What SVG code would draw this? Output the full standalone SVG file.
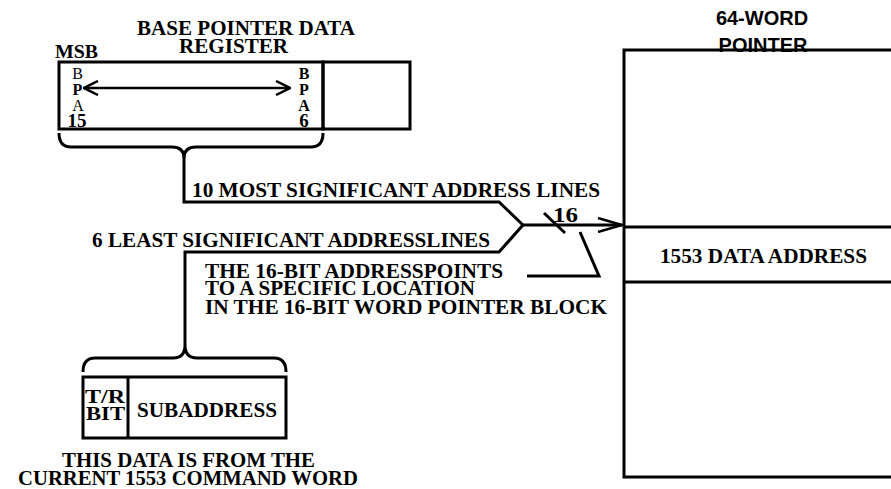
<svg xmlns="http://www.w3.org/2000/svg" width="891" height="489" viewBox="0 0 891 489">
<style>
.t{font-family:"Liberation Serif","Times New Roman",serif;font-weight:bold;font-size:20px;fill:#000}
.r{font-weight:normal}
.s{font-family:"Liberation Sans",Arial,sans-serif;font-weight:bold;font-size:20px;fill:#000}
.box{fill:none;stroke:#000;stroke-width:3}
.ln{fill:none;stroke:#000;stroke-width:3;stroke-linejoin:miter}
.thin{fill:none;stroke:#000;stroke-width:2.5}
</style>
<defs>
<marker id="open" viewBox="0 0 26 16" refX="25" refY="8" markerWidth="26" markerHeight="16" markerUnits="userSpaceOnUse" orient="auto-start-reverse">
<path d="M1,1 L25,8 L1,15" fill="none" stroke="#000" stroke-width="2.5"/>
</marker>
<marker id="small" viewBox="0 0 16 16" refX="15" refY="8" markerWidth="16" markerHeight="16" markerUnits="userSpaceOnUse" orient="auto-start-reverse">
<path d="M1,1 L15,8 L1,15" fill="none" stroke="#000" stroke-width="2.5"/>
</marker>
</defs>

<g id="register">
<text class="t" x="137" y="35" textLength="218" lengthAdjust="spacingAndGlyphs">BASE POINTER DATA</text>
<text class="t" x="179" y="53" textLength="109" lengthAdjust="spacingAndGlyphs">REGISTER</text>
<text class="t" x="55" y="58" textLength="43" lengthAdjust="spacingAndGlyphs" style="font-size:19px">MSB</text>
<rect class="box" x="59" y="62" width="264" height="67"/>
<rect class="box" x="323" y="62" width="87" height="67"/>
<text class="t r" x="77.5" y="79" text-anchor="middle" style="font-size:16px">B</text>
<text class="t" x="77.5" y="95" text-anchor="middle" style="font-size:16px">P</text>
<text class="t r" x="78" y="111" text-anchor="middle" style="font-size:16px">A</text>
<text class="t" x="77" y="127" text-anchor="middle" style="font-size:19px">15</text>
<text class="t" x="304" y="79" text-anchor="middle" style="font-size:16px">B</text>
<text class="t" x="304" y="95" text-anchor="middle" style="font-size:16px">P</text>
<text class="t" x="304" y="111" text-anchor="middle" style="font-size:16px">A</text>
<text class="t" x="304" y="127" text-anchor="middle" style="font-size:19px">6</text>
<line class="thin" x1="84" y1="88" x2="290" y2="88" marker-start="url(#small)" marker-end="url(#small)"/>
</g>

<g id="pointer-block">
<text class="s" x="762" y="25" text-anchor="middle">64-WORD</text>
<text class="s" x="763" y="52" text-anchor="middle">POINTER</text>
<rect x="624" y="50" width="300" height="427" fill="none" stroke="#000" stroke-width="3"/>
<line class="ln" x1="624" y1="227" x2="891" y2="227"/>
<line class="ln" x1="624" y1="282" x2="891" y2="282"/>
<text class="t" x="660" y="263" textLength="207" lengthAdjust="spacingAndGlyphs">1553 DATA ADDRESS</text>
</g>

<g id="command-word">
<rect class="box" x="83" y="377" width="203" height="61"/>
<line class="ln" x1="128" y1="377" x2="128" y2="438"/>
<text class="t" x="85" y="403" textLength="40" lengthAdjust="spacingAndGlyphs" style="font-size:18px">T/R</text>
<text class="t" x="86" y="420" textLength="39" lengthAdjust="spacingAndGlyphs" style="font-size:18px">BIT</text>
<text class="t" x="137" y="417" textLength="140" lengthAdjust="spacingAndGlyphs">SUBADDRESS</text>
<text class="t" x="62" y="467" textLength="253" lengthAdjust="spacingAndGlyphs">THIS DATA IS FROM THE</text>
<text class="t" x="18" y="485" textLength="340" lengthAdjust="spacingAndGlyphs">CURRENT 1553 COMMAND WORD</text>
</g>

<g id="labels">
<text class="t" x="192" y="197" textLength="408" lengthAdjust="spacingAndGlyphs">10 MOST SIGNIFICANT ADDRESS LINES</text>
<text class="t" x="92" y="247" textLength="398" lengthAdjust="spacingAndGlyphs">6 LEAST SIGNIFICANT ADDRESSLINES</text>
<text class="t" x="553" y="222" textLength="25" lengthAdjust="spacingAndGlyphs">16</text>
<text class="t" x="205" y="278" textLength="298" lengthAdjust="spacingAndGlyphs">THE 16-BIT ADDRESSPOINTS</text>
<text class="t" x="205" y="295" textLength="270" lengthAdjust="spacingAndGlyphs">TO A SPECIFIC LOCATION</text>
<text class="t" x="205" y="314" textLength="402" lengthAdjust="spacingAndGlyphs">IN THE 16-BIT WORD POINTER BLOCK</text>
</g>

<g id="connectors">
<path class="ln" d="M59,133 Q59,147 71,147 H172 Q184,147 184,158 Q184,147 196,147 H311 Q323,147 323,133"/>
<path class="ln" d="M83,372 Q83,358 95,358 H173 Q185,358 185,345 Q185,358 197,358 H274 Q286,358 286,372"/>
<path class="ln" d="M184,157 V202 H499 L523,225"/>
<path class="ln" d="M185,345 V252 H499 L523,225"/>
<line class="ln" x1="523" y1="225" x2="622" y2="225" marker-end="url(#open)"/>
<line class="ln" x1="544" y1="213" x2="565" y2="233"/>
<path class="ln" d="M580,232 L599,276 H527"/>
</g>
</svg>
